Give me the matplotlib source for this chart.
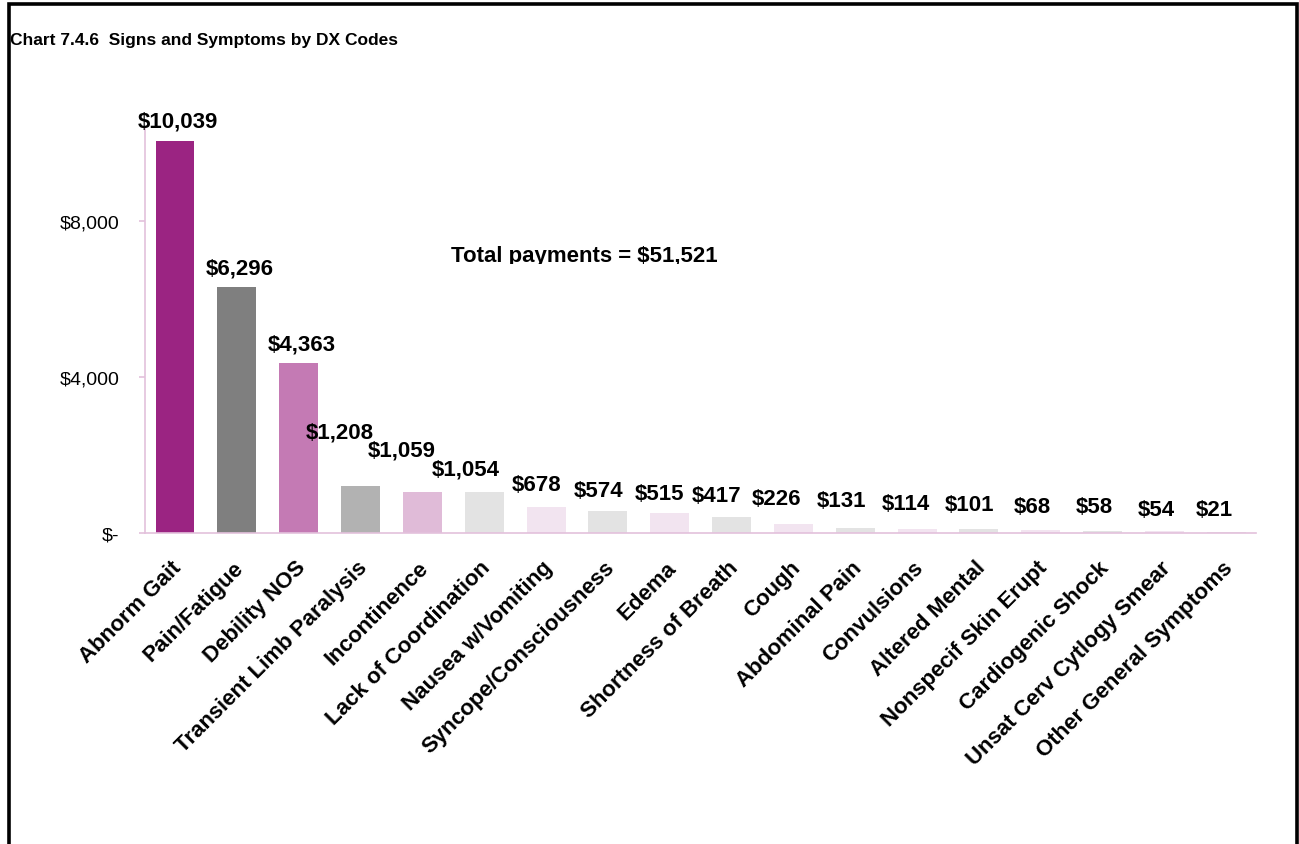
import matplotlib
matplotlib.use("Agg")
import matplotlib.pyplot as plt
from matplotlib.patches import Rectangle
from matplotlib.ticker import FuncFormatter, MultipleLocator
from matplotlib.transforms import ScaledTranslation

plt.rcParams['font.family'] = ['Liberation Sans', 'DejaVu Sans']

# ---- data ----
categories = ["Abnorm Gait", "Pain/Fatigue", "Debility NOS", "Transient Limb Paralysis",
              "Incontinence", "Lack of Coordination", "Nausea w/Vomiting",
              "Syncope/Consciousness", "Edema", "Shortness of Breath", "Cough",
              "Abdominal Pain", "Convulsions", "Altered Mental", "Nonspecif Skin Erupt",
              "Cardiogenic Shock", "Unsat Cerv Cytlogy Smear", "Other General Symptoms"]
values = [10039, 6296, 4363, 1208, 1059, 1054, 678, 574, 515, 417, 226, 131, 114, 101,
          68, 58, 54, 21]
total_text = "Total payments = $51,521"
title_text = "Chart 7.4.6  Signs and Symptoms by DX Codes"

# ---- styling ----
bar_colors = ["#9B2482", "#7F7F7F", "#C47AB4", "#B2B2B2", "#E0BBD8"] + \
             ["#E3E3E3" if i % 2 == 1 else "#F2E4F0" for i in range(5, 18)]
# manual label placement (x offset in bar units, y in data units), as in the original
label_dx = [0.04, 0.04, 0.05, -0.34, -0.33, -0.30, -0.15, -0.15, -0.17, -0.25, -0.27,
            -0.23, -0.18, -0.16, -0.14, -0.14, -0.14, -0.19]
label_y = [10564, 6795, 4846, 2590, 2128, 1641, 1231, 1077, 1000, 949, 872, 821, 769,
           718, 692, 692, 615, 615]

W, H = 1299, 845
fig = plt.figure(figsize=(W / 100, H / 100), dpi=100)
ax = fig.add_axes([145 / W, 1 - 534 / H, (1256 - 145) / W, (534 - 128) / H])

x = list(range(len(categories)))
ax.bar(x, values, width=0.63, color=bar_colors, zorder=2)
ax.set_xlim(-0.485, 17.48)
ax.set_ylim(0, 10410)

axis_col = "#E3C1DC"
for s in ["top", "right"]:
    ax.spines[s].set_visible(False)
for s in ["left", "bottom"]:
    ax.spines[s].set_color(axis_col)
    ax.spines[s].set_linewidth(1.2)
    ax.spines[s].set_zorder(3)

ax.yaxis.set_major_locator(MultipleLocator(4000))
ax.yaxis.set_major_formatter(FuncFormatter(lambda v, p: "$-" if v == 0 else f"${v:,.0f}"))
ax.tick_params(axis='y', direction='out', length=4.5, width=1.2, color=axis_col,
               pad=14, labelsize=14, labelcolor='black')
ax.set_xticks(x)
ax.set_xticklabels(categories, rotation=45, ha='right', va='top', rotation_mode='anchor',
                   fontsize=16, fontweight='bold')
ax.tick_params(axis='x', length=0, pad=17)
shift = ScaledTranslation(-4 / 100, 0, fig.dpi_scale_trans)
for lab in ax.get_xticklabels():
    lab.set_transform(lab.get_transform() + shift)

for i, v in enumerate(values):
    ax.text(i + label_dx[i], label_y[i], f"${v:,}", ha='center', va='center',
            fontsize=16, fontweight='bold', clip_on=False, zorder=4)

# total payments text (clipped at bottom as in original)
t = fig.text(584 / W, 1 - 262 / H, total_text, ha='center', va='baseline',
             fontsize=16, fontweight='bold')
clip = Rectangle((0, 1 - 265 / H), 1, 0.5, transform=fig.transFigure, visible=False)
fig.add_artist(clip)
t.set_clip_path(clip)

fig.text(10 / W, 1 - 40 / H, title_text, ha='left', va='center', fontsize=12.5,
         fontweight='bold')

# frame (bottom edge outside image)
frame = Rectangle((9 / W, -0.2), (1297 - 9) / W, 1.2 - 5 / H, transform=fig.transFigure,
                  fill=False, edgecolor='black', linewidth=2.6)
fig.add_artist(frame)

fig.savefig("out.png", dpi=100)
